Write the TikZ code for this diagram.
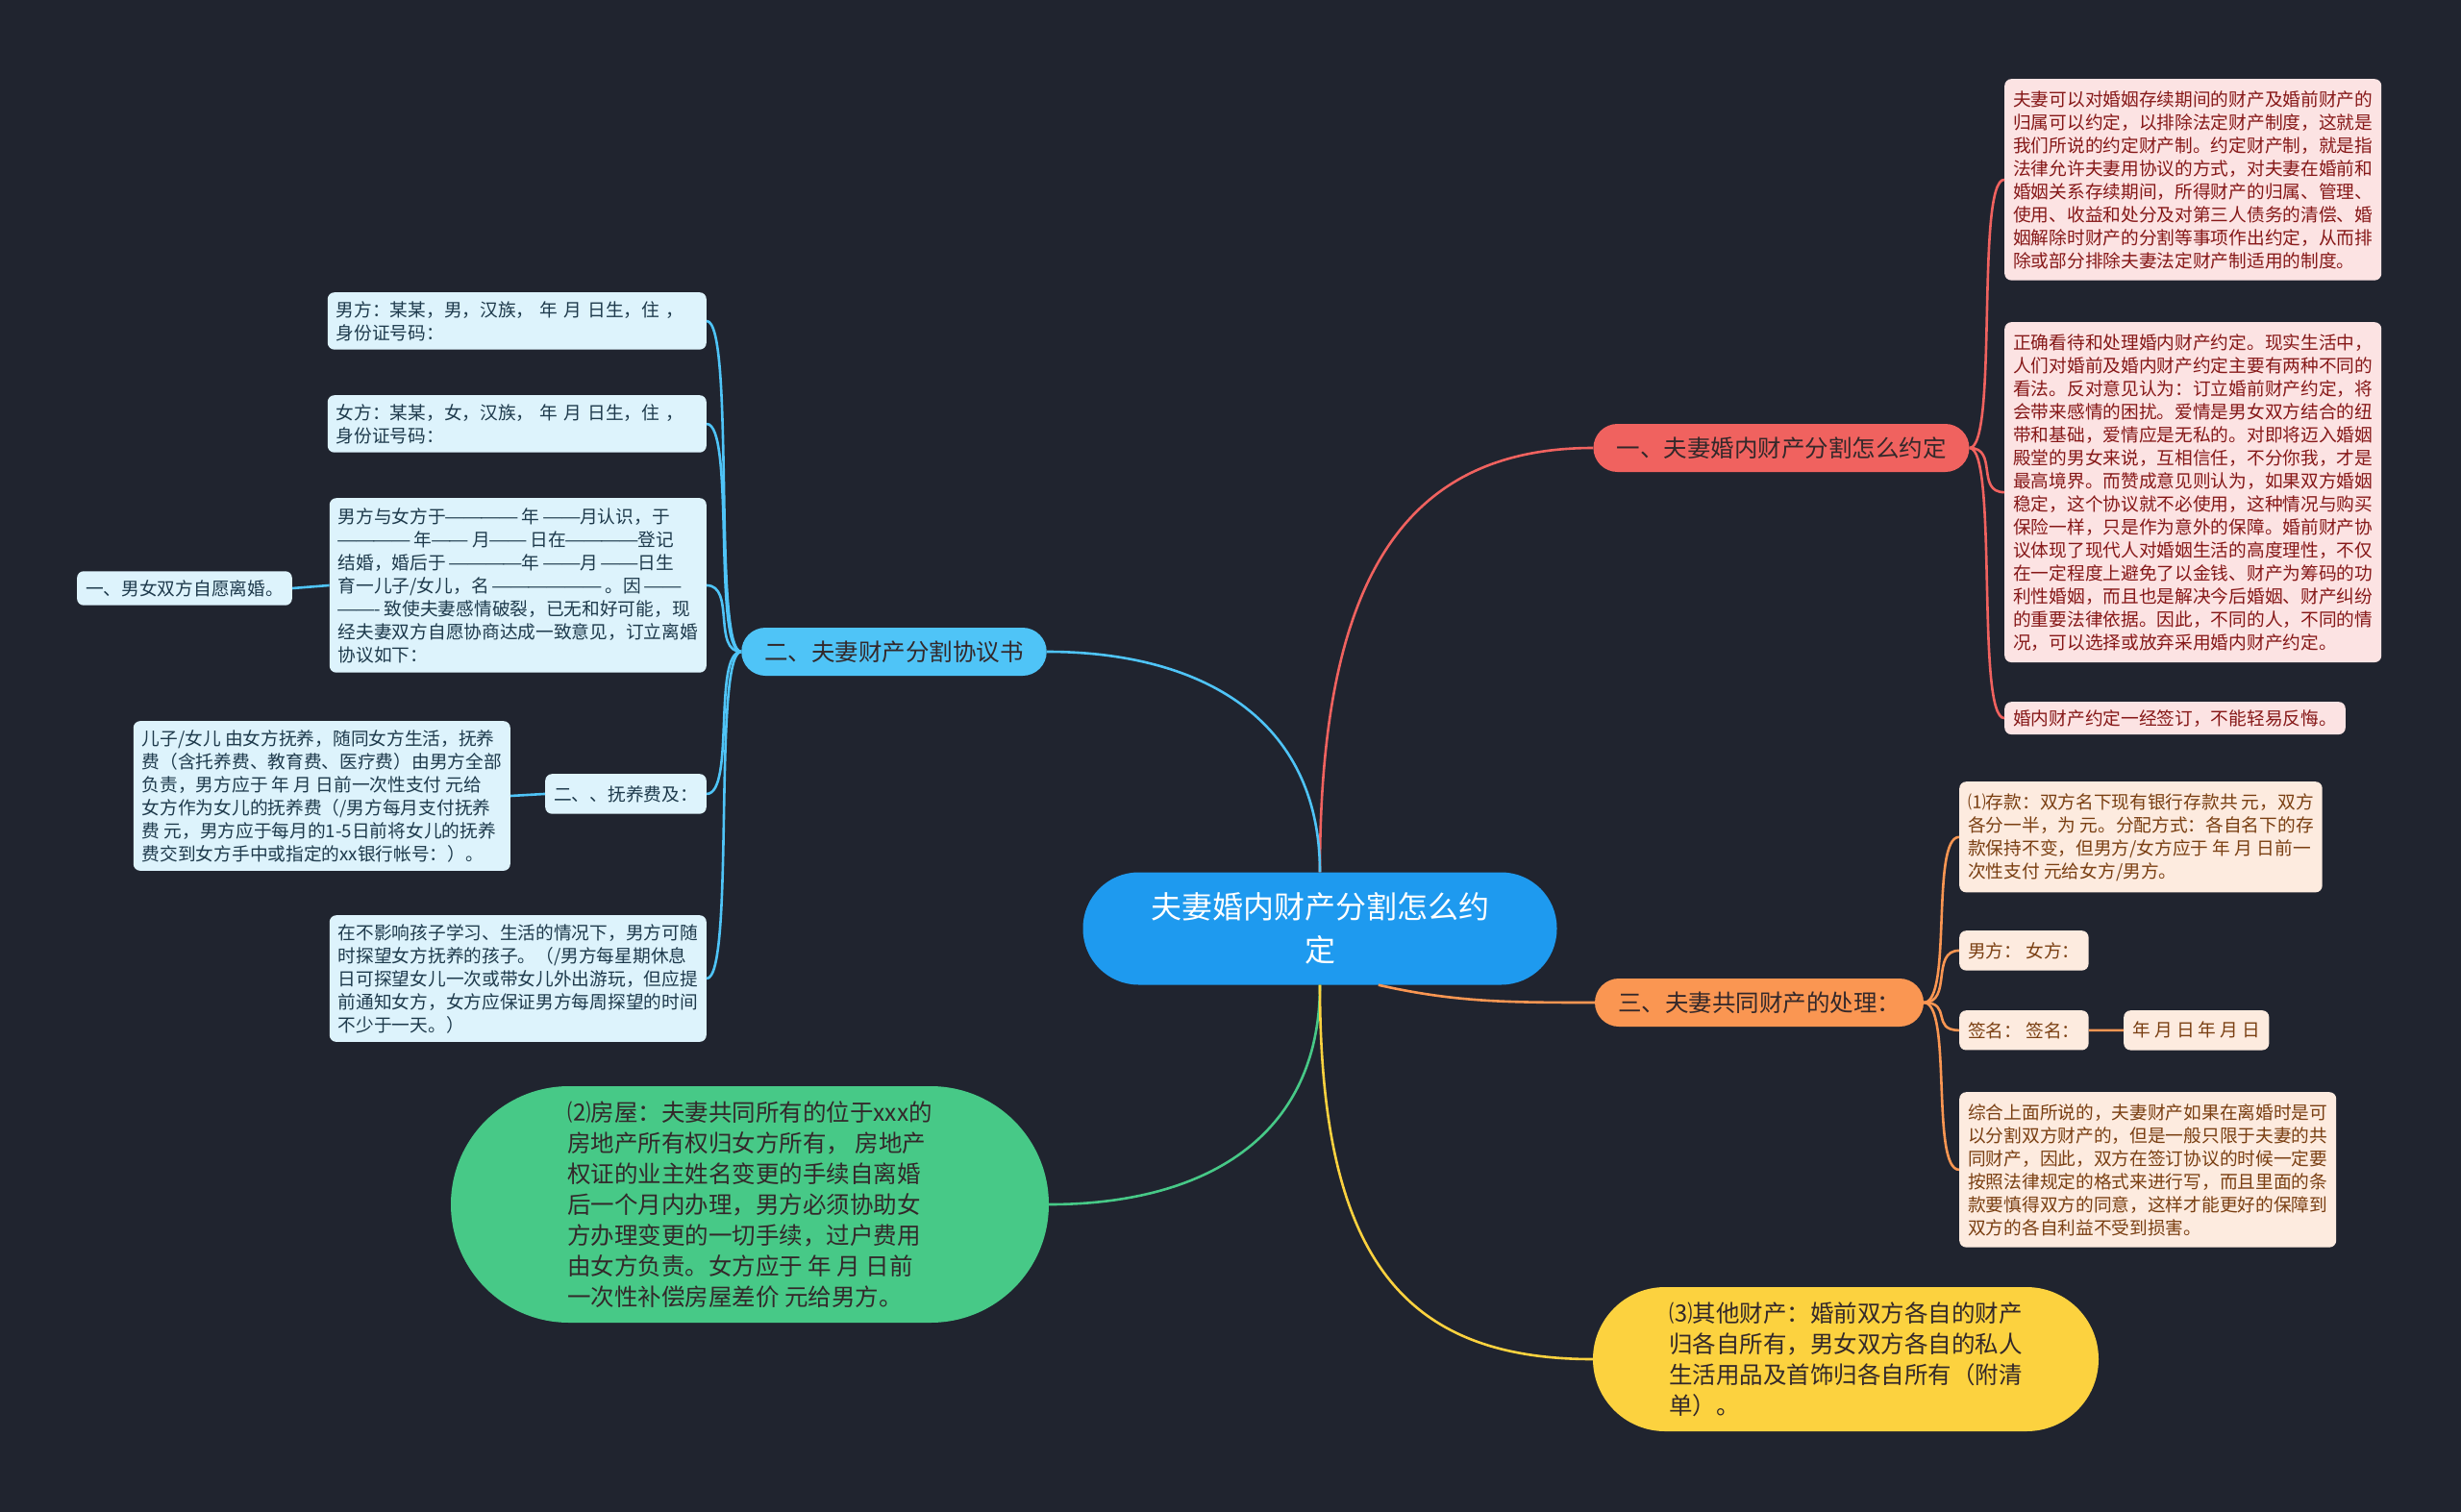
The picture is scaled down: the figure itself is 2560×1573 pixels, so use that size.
\documentclass[tikz,border=0pt]{standalone}
\usepackage{fontspec}
\usepackage{graphicx}
\newfontfamily\cjk{Noto Sans CJK SC}
\newcommand\fwdash{\makebox[1em]{\resizebox{1.15em}{\height}{—}}}

\definecolor{bgdark}{HTML}{20242F}
\definecolor{rootblue}{HTML}{1E9AEF}
\definecolor{mapred}{HTML}{F0625F}
\definecolor{mapblue}{HTML}{4FC4F7}
\definecolor{maporange}{HTML}{FA9652}
\definecolor{mapgreen}{HTML}{47C987}
\definecolor{mapyellow}{HTML}{FCD23F}
\definecolor{redleaffill}{HTML}{FCE3E3}
\definecolor{redleaftext}{HTML}{861818}
\definecolor{blueleaffill}{HTML}{DDF3FC}
\definecolor{blueleaftext}{HTML}{1E3A4C}
\definecolor{orangeleaffill}{HTML}{FDEBDF}
\definecolor{orangeleaftext}{HTML}{7A3F12}
\definecolor{topictext}{HTML}{33282A}

\tikzset{
  root/.style={fill=rootblue, text=white, rounded corners=58pt, align=center,
    minimum width=493pt, minimum height=117pt, inner sep=0pt,
    font=\cjk\fontsize{32}{45}\selectfont},
  topic/.style={rounded corners=25pt, minimum height=50pt, inner xsep=24pt,
    inner ysep=0pt, text=topictext, font=\cjk\fontsize{24.5}{30}\selectfont},
  leaf/.style={rounded corners=7pt, align=left, inner xsep=9pt, inner ysep=12pt,
    font=\cjk\fontsize{18.7}{24}\selectfont},
  redleaf/.style={leaf, fill=redleaffill, text=redleaftext},
  blueleaf/.style={leaf, fill=blueleaffill, text=blueleaftext},
  orangeleaf/.style={leaf, fill=orangeleaffill, text=orangeleaftext},
  pill/.style={align=left, inner sep=0pt, text=topictext,
    font=\cjk\fontsize{24.5}{32}\selectfont},
  link/.style={line width=2.6pt},
  redlink/.style={link, draw=mapred},
  bluelink/.style={link, draw=mapblue},
  orangelink/.style={link, draw=maporange},
}

\begin{document}
\begin{tikzpicture}[x=1pt,y=1pt]
  \fill[bgdark] (0,0) rectangle (2560,-1573);
  \useasboundingbox (0,0) rectangle (2560,-1573);

  % centre
  \node[root] (root) at (1373,-966) {夫妻婚内财产分割怎么约\\定};

  % main topics
  \node[topic, fill=mapred] (t1) at (1853,-466) {一、夫妻婚内财产分割怎么约定};
  \node[topic, fill=mapblue] (t2) at (930,-678) {二、夫妻财产分割协议书};
  \node[topic, fill=maporange] (t3) at (1830,-1043) {三、夫妻共同财产的处理：};
  \node[pill, fill=mapgreen, rounded corners=123pt, minimum width=622pt,
    minimum height=246pt] (house) at (780,-1253)
    {⑵房屋：夫妻共同所有的位于xxx的\\
     房地产所有权归女方所有， 房地产\\
     权证的业主姓名变更的手续自离婚\\
     后一个月内办理，男方必须协助女\\
     方办理变更的一切手续，过户费用\\
     由女方负责。女方应于 年 月 日前\\
     一次性补偿房屋差价 元给男方。};
  \node[pill, fill=mapyellow, rounded corners=75pt, minimum width=526pt,
    minimum height=150pt] (other) at (1920,-1414)
    {⑶其他财产：婚前双方各自的财产\\
     归各自所有，男女双方各自的私人\\
     生活用品及首饰归各自所有（附清\\
     单）。};

  % red leaves
  \node[redleaf, anchor=north west] (r1) at (2085,-82)
    {夫妻可以对婚姻存续期间的财产及婚前财产的\\
     归属可以约定，以排除法定财产制度，这就是\\
     我们所说的约定财产制。约定财产制，就是指\\
     法律允许夫妻用协议的方式，对夫妻在婚前和\\
     婚姻关系存续期间，所得财产的归属、管理、\\
     使用、收益和处分及对第三人债务的清偿、婚\\
     姻解除时财产的分割等事项作出约定，从而排\\
     除或部分排除夫妻法定财产制适用的制度。};
  \node[redleaf, anchor=north west] (r2) at (2085,-335)
    {正确看待和处理婚内财产约定。现实生活中，\\
     人们对婚前及婚内财产约定主要有两种不同的\\
     看法。反对意见认为：订立婚前财产约定，将\\
     会带来感情的困扰。爱情是男女双方结合的纽\\
     带和基础，爱情应是无私的。对即将迈入婚姻\\
     殿堂的男女来说，互相信任，不分你我，才是\\
     最高境界。而赞成意见则认为，如果双方婚姻\\
     稳定，这个协议就不必使用，这种情况与购买\\
     保险一样，只是作为意外的保障。婚前财产协\\
     议体现了现代人对婚姻生活的高度理性，不仅\\
     在一定程度上避免了以金钱、财产为筹码的功\\
     利性婚姻，而且也是解决今后婚姻、财产纠纷\\
     的重要法律依据。因此，不同的人，不同的情\\
     况，可以选择或放弃采用婚内财产约定。};
  \node[redleaf, anchor=north west, inner ysep=8pt] (r3) at (2085,-730)
    {婚内财产约定一经签订，不能轻易反悔。};

  % blue leaves
  \node[blueleaf, anchor=north east, inner ysep=9pt, text width=376pt] (b1) at (735,-304)
    {男方：某某，男，汉族， 年 月 日生，住 ，\\身份证号码：};
  \node[blueleaf, anchor=north east, inner ysep=9pt, text width=376pt] (b2) at (735,-411)
    {女方：某某，女，汉族， 年 月 日生，住 ，\\身份证号码：};
  \node[blueleaf, anchor=north east, inner ysep=10pt] (b3) at (735,-518)
    {男方与女方于\fwdash\fwdash\fwdash\fwdash{} 年 \fwdash\fwdash 月认识，于\\
     \fwdash\fwdash\fwdash\fwdash{} 年\fwdash\fwdash{} 月\fwdash\fwdash{} 日在\fwdash\fwdash\fwdash\fwdash 登记\\
     结婚，婚后于 \fwdash\fwdash\fwdash\fwdash 年 \fwdash\fwdash 月 \fwdash\fwdash 日生\\
     育一儿子/女儿，名 \fwdash\fwdash\fwdash\fwdash\fwdash\fwdash{} 。因 \fwdash\fwdash\\
     \fwdash\fwdash- 致使夫妻感情破裂，已无和好可能，现\\
     经夫妻双方自愿协商达成一致意见，订立离婚\\
     协议如下：};
  \node[blueleaf, anchor=north east, inner ysep=12pt] (b4) at (735,-805)
    {二、、抚养费及：};
  \node[blueleaf, anchor=north east, inner ysep=9pt] (b5) at (735,-952)
    {在不影响孩子学习、生活的情况下，男方可随\\
     时探望女方抚养的孩子。（/男方每星期休息\\
     日可探望女儿一次或带女儿外出游玩，但应提\\
     前通知女方，女方应保证男方每周探望的时间\\
     不少于一天。）};
  \node[blueleaf, anchor=east, inner ysep=9pt] (b3a) at (304,-612)
    {一、男女双方自愿离婚。};
  \node[blueleaf, anchor=east, inner ysep=9pt] (b4a) at (531,-828)
    {儿子/女儿 由女方抚养，随同女方生活，抚养\\
     费（含托养费、教育费、医疗费）由男方全部\\
     负责，男方应于 年 月 日前一次性支付 元给\\
     女方作为女儿的抚养费（/男方每月支付抚养\\
     费 元，男方应于每月的1-5日前将女儿的抚养\\
     费交到女方手中或指定的xx银行帐号：）。};

  % orange leaves
  \node[orangeleaf, anchor=north west] (o1) at (2038,-813)
    {⑴存款：双方名下现有银行存款共 元，双方\\
     各分一半，为 元。分配方式：各自名下的存\\
     款保持不变，但男方/女方应于 年 月 日前一\\
     次性支付 元给女方/男方。};
  \node[orangeleaf, anchor=north west] (o2) at (2038,-968) {男方： 女方：};
  \node[orangeleaf, anchor=north west] (o3) at (2038,-1051) {签名： 签名：};
  \node[orangeleaf, anchor=north west] (o3a) at (2209,-1051) {年 月 日 年 月 日};
  \node[orangeleaf, anchor=north west] (o4) at (2038,-1136)
    {综合上面所说的，夫妻财产如果在离婚时是可\\
     以分割双方财产的，但是一般只限于夫妻的共\\
     同财产，因此，双方在签订协议的时候一定要\\
     按照法律规定的格式来进行写，而且里面的条\\
     款要慎得双方的同意，这样才能更好的保障到\\
     双方的各自利益不受到损害。};

  % branches from the centre
  \draw[redlink] (root.north) .. controls +(0,300) and +(-200,0) .. (t1.west);
  \draw[bluelink] (root.north) .. controls +(0,160) and +(160,0) .. (t2.east);
  \draw[link, draw=mapgreen] (root.south) .. controls +(0,-160) and +(160,0) .. (house.east);
  \draw[link, draw=mapyellow] (root.south) .. controls +(0,-280) and +(-200,0) .. (other.west);
  \draw[orangelink] (root.-44) .. controls +(80,-18) and +(-90,0) .. (t3.west);

  % leaves
  \foreach \n in {r1,r2,r3}
    \draw[redlink] (t1.east) .. controls +(30,0) and +(-30,0) .. (\n.west);
  \foreach \n in {b1,b2,b3,b4,b5}
    \draw[bluelink] (t2.west) .. controls +(-30,0) and +(30,0) .. (\n.east);
  \draw[bluelink] (b3.west) -- (b3a.east);
  \draw[bluelink] (b4.west) -- (b4a.east);
  \foreach \n in {o1,o2,o3,o4}
    \draw[orangelink] (t3.east) .. controls +(30,0) and +(-30,0) .. (\n.west);
  \draw[orangelink] (o3.east) -- (o3a.west);
\end{tikzpicture}
\end{document}
